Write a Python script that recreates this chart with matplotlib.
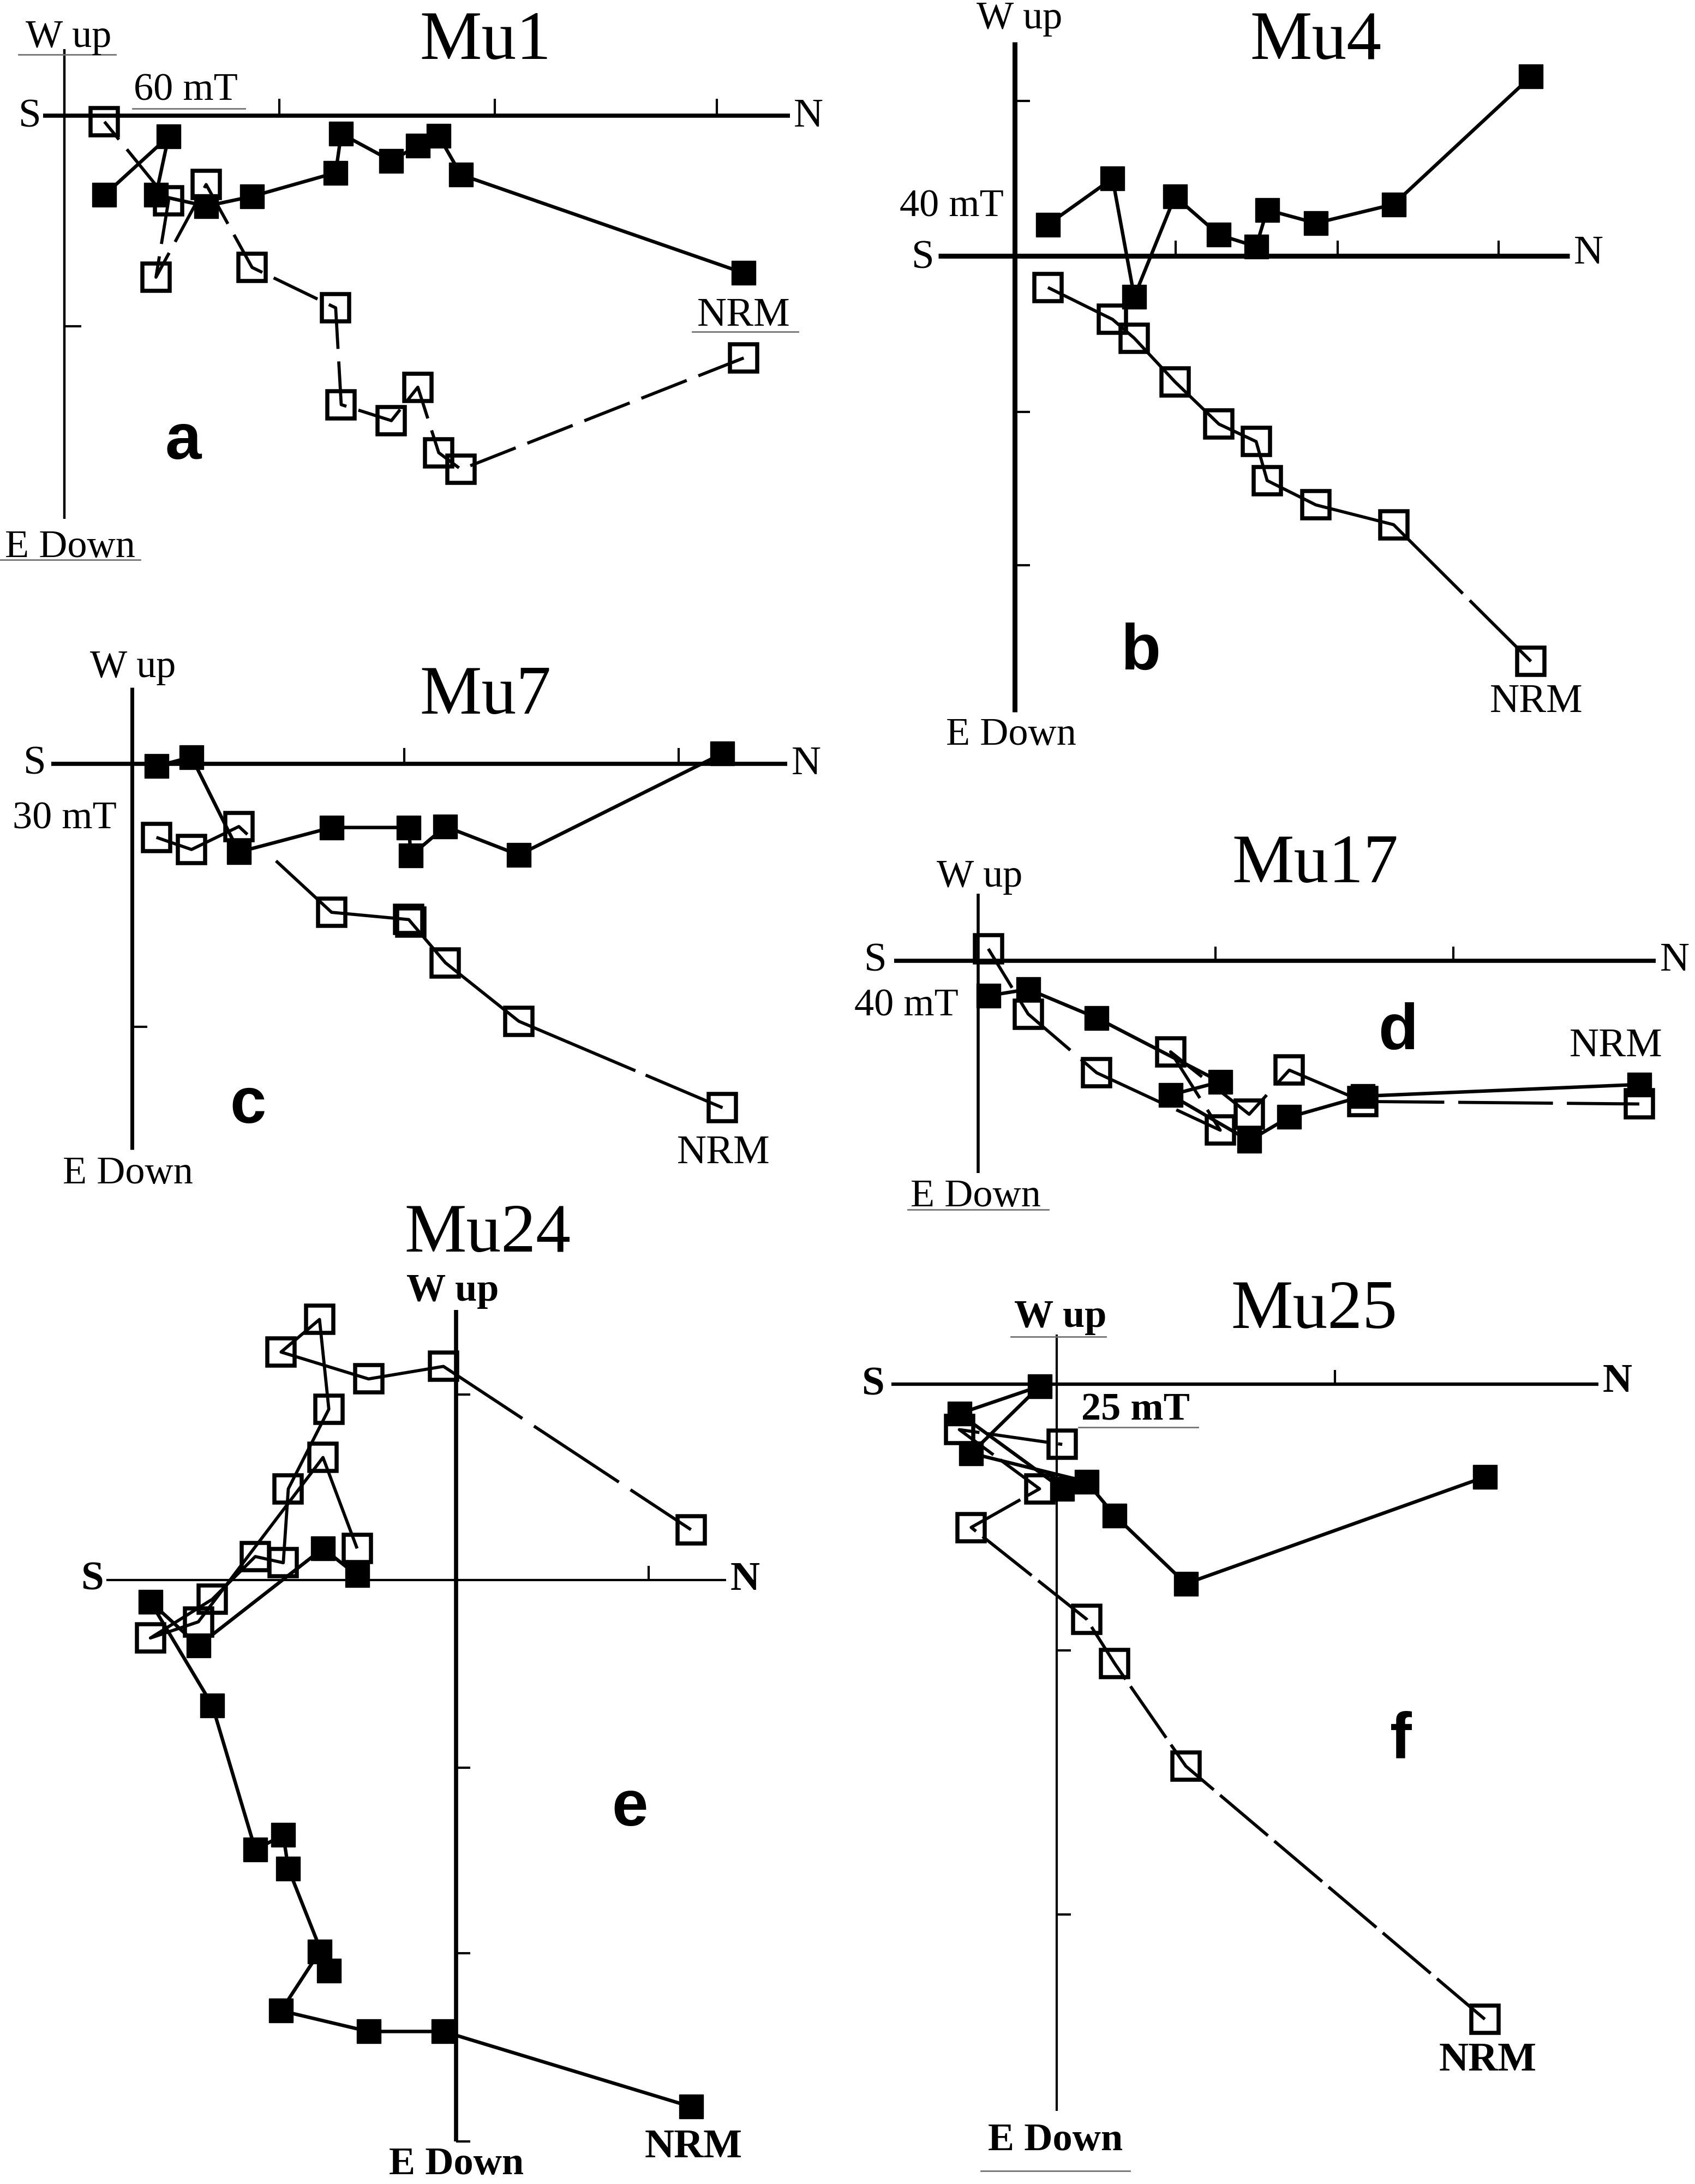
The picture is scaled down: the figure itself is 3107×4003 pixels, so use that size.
import matplotlib
matplotlib.use("Agg")
import matplotlib.pyplot as plt

plt.rcParams['lines.scale_dashes'] = False

FIG_W, FIG_H = 3107, 4003
REF_W, REF_H = 1217.0, 1568.0
PT = (FIG_W / REF_W) * 72.0 / 100.0   # points per reference pixel

SERIF = ['Liberation Serif', 'DejaVu Serif']
SANS = ['Liberation Sans', 'DejaVu Sans']

# ------------------------------------------------------------------
# Demagnetisation data (arbitrary units, origin at the
# axis crossing). north: N component; east: horizontal projection (E positive,
# drawn downward = "W up"); down: vertical projection (Down positive).
# Each list runs from the NRM to the last demagnetisation step.
# ------------------------------------------------------------------
mu1_north = [487.6, 284.6, 268.6, 253.6, 234.6, 198.6, 194.6, 134.6, 101.6, 65.6, 74.6, 28.6]
mu1_east = [113.0, 42.5, 14.6, 21.5, 32.5, 13.0, 41.0, 58.0, 65.0, 57.0, 15.0, 57.0]
mu1_down = [174.0, 254.0, 242.0, 195.0, 219.0, 207.5, 138.0, 109.0, 49.5, 116.0, 61.0, 4.4]

mu4_north = [370.8, 272.2, 216.4, 181.4, 173.5, 146.8, 115.2, 86.0, 70.4, 24.0]
mu4_east = [-128.8, -37.1, -23.6, -33.1, -6.8, -15.2, -42.8, 29.3, -55.7, -22.6]
mu4_down = [291.0, 192.9, 178.7, 161.2, 133.2, 120.7, 90.3, 59.0, 45.5, 22.6]

mu7_north = [423.9, 277.6, 224.9, 200.1, 198.6, 143.2, 76.6, 42.6, 17.4]
mu7_east = [-7.3, 65.6, 45.2, 66.1, 45.9, 45.9, 63.5, -4.7, 1.9]
mu7_down = [247.1, 185.0, 143.0, 113.8, 112.0, 106.8, 45.2, 61.7, 53.0]

mu17_north = [474.6, 276.2, 223.3, 194.5, 138.1, 173.7, 85.0, 35.8, 7.2]
mu17_east = [89.0, 97.4, 112.4, 129.3, 96.5, 87.1, 41.2, 20.6, 25.3]
mu17_down = [103.0, 101.2, 78.7, 110.4, 65.6, 121.8, 80.6, 38.4, -8.4]

mu24_north = [168.6, -9.1, -62.9, -125.7, -98.1, -91.4, -120.5, -124.1, -144.2,
              -175.1, -219.5, -185.1, -95.6, -71.1]
mu24_east = [378.3, 324.3, 324.3, 309.4, 267.1, 280.6, 207.2, 183.3, 193.7,
             90.1, 15.8, 47.3, -22.5, -3.2]
mu24_down = [-36.0, -153.2, -144.2, -163.5, -186.9, -122.5, -65.3, -12.2, -16.7,
             14.0, 41.8, 30.2, -87.8, -22.5]

mu25_north = [307.3, 92.6, 41.6, 21.4, -61.5, -12.4, -70.0, 3.9]
mu25_east = [66.8, 143.4, 94.5, 70.2, 49.8, 1.7, 21.3, 75.3]
mu25_down = [456.1, 274.4, 200.8, 168.9, 103.0, 75.3, 32.8, 43.4]

sample_names = ["Mu1", "Mu4", "Mu7", "Mu17", "Mu24", "Mu25"]
panel_letters = ["a", "b", "c", "d", "e", "f"]
step_labels = ["60 mT", "40 mT", "30 mT", "40 mT", None, "25 mT"]

# ------------------------------------------------------------------
# Layout (reference-pixel units relative to each panel's origin)
# ------------------------------------------------------------------
layout = [
    dict(origin=(46.4, 83), box=(0, 0, 608, 440),
         haxis=(-15.4, 520.6), vaxis=(-47.6, 289.7), hlw=5.5, vlw=3.2,
         hticks=[154.1, 308.9, 468.3], vticks=[151.4], tick=12,
         S=(-25, 1), N=(534, 1), Wup=(2.9, -56), Edown=(4, 310),
         step=(87, -18), nrm=(487.6, 144), letter=(85.2, 234.6), title=(302, -52.8),
         dash=(35, 9), bold=False,
         underlines=[(-33, 36.6, -44), (48.6, 129.6, -5), (450.6, 526.6, 155), (-46.4, 54.2, 319)]),
    dict(origin=(728.4, 183.8), box=(608, 0, 1217, 540),
         haxis=(-54.7, 398.6), vaxis=(-153.8, 327.2), hlw=6.5, vlw=6.5,
         hticks=[115.9, 232.2, 347.4], vticks=[-111.3, 112.0, 221.9], tick=11,
         S=(-65.9, 1.7), N=(412.2, -1.7), Wup=(3.7, -170.3), Edown=(-2.4, 344),
         step=(-45.2, -35.4), nrm=(374.6, 320.3), letter=(90.3, 284.9), title=(216.4, -153.5),
         dash=(62, 7, 2000, 1), bold=False, underlines=[]),
    dict(origin=(94.9, 548.2), box=(0, 440, 608, 870),
         haxis=(-58.1, 470.4), vaxis=(-54.5, 277.3), hlw=5.5, vlw=5.0,
         hticks=[195.5, 392.2], vticks=[188.8], tick=11,
         S=(-69.9, 0.6), N=(484, 0.6), Wup=(0.7, -68.9), Edown=(-3.1, 294.4),
         step=(-48.4, 39.8), nrm=(424.7, 279.9), letter=(83.2, 245.8), title=(253.6, -48),
         dash=(60, 8, 309, 28, 2000, 1), bold=False, underlines=[]),
    dict(origin=(702.4, 689.6), box=(608, 540, 1217, 870),
         haxis=(-60.3, 486.3), vaxis=(-47.8, 152.7), hlw=5.5, vlw=4.0,
         hticks=[170.4, 341.2], vticks=[], tick=10,
         S=(-73.9, 0.4), N=(499.9, 0.4), Wup=(0.8, -59.9), Edown=(-1.9, 169.6),
         step=(-51.7, 32.8), nrm=(457.9, 61.8), letter=(301.5, 51.5), title=(242, -68.4),
         dash=(52, 10, 68, 10), bold=False, underlines=[(-50.6, 50.6, 179)]),
    dict(origin=(327.5, 1134.2), box=(0, 870, 608, 1568),
         haxis=(-251.2, 193.9), vaxis=(-193.7, 403.1), hlw=3.0, vlw=5.5,
         hticks=[138.2], vticks=[-132.9, 135.1, 268.0, 403.1], tick=10,
         S=(-261.4, 0), N=(207.4, 0), Wup=(-2.4, -207.2), Edown=(0, 420),
         step=None, nrm=(170.3, 407.6), letter=(124.7, 164.4), title=(22.6, -247.7),
         dash=(52, 10, 73, 10, 2000, 1), bold=True, underlines=[]),
    dict(origin=(758.8, 993.6), box=(608, 870, 1217, 1568),
         haxis=(-118.6, 389.0), vaxis=(-35.3, 522.0), hlw=4.5, vlw=3.0,
         hticks=[199.6], vticks=[191.5, 380.8], tick=10,
         S=(-132.2, 0.9), N=(402.6, -1.3), Wup=(2.7, -48), Edown=(-1.2, 543.3),
         step=(56.4, 18.8), nrm=(309.3, 485.8), letter=(247, 256.1), title=(184.8, -52.3),
         dash=(45, 6), bold=True,
         underlines=[(-33.1, 35, -34), (15.6, 101.2, 31), (-54.4, 52.5, 565)]),
]

series = [
    (mu1_north, mu1_east, mu1_down),
    (mu4_north, mu4_east, mu4_down),
    (mu7_north, mu7_east, mu7_down),
    (mu17_north, mu17_east, mu17_down),
    (mu24_north, mu24_east, mu24_down),
    (mu25_north, mu25_east, mu25_down),
]

DATA_LW = 4.6
FILLED_MS, OPEN_MS, OPEN_MEW = 31, 36, 5.4
LABEL_FS, SN_FS, TITLE_FS, LETTER_FS = 52, 54, 92, 86

fig = plt.figure(figsize=(FIG_W / 100, FIG_H / 100), dpi=100)

for (north, east, down), name, letter, step, p in zip(series, sample_names, panel_letters,
                                                       step_labels, layout):
    ox, oy = p['origin']
    x0, y0, x1, y1 = p['box']
    ax = fig.add_axes([x0 / REF_W, 1 - y1 / REF_H, (x1 - x0) / REF_W, (y1 - y0) / REF_H])
    ax.set_xlim(x0 - ox, x1 - ox)
    ax.set_ylim(y1 - oy, y0 - oy)   # positive values (E / Down) drawn downward
    ax.axis('off')

    # Zijderveld axes
    ax.plot(p['haxis'], [0, 0], color='k', lw=p['hlw'], solid_capstyle='butt', clip_on=False)
    ax.plot([0, 0], p['vaxis'], color='k', lw=p['vlw'], solid_capstyle='butt', clip_on=False)
    for t in p['hticks']:
        ax.plot([t, t], [0, -p['tick']], color='k', lw=3.0, solid_capstyle='butt', clip_on=False)
    for t in p['vticks']:
        ax.plot([0, p['tick']], [t, t], color='k', lw=3.0, solid_capstyle='butt', clip_on=False)

    # vertical projection (open squares)
    ax.plot(north, down, color='k', lw=DATA_LW * 0.9, dashes=[d * PT for d in p['dash']],
            marker='s', ms=OPEN_MS, mfc='none', mec='k', mew=OPEN_MEW,
            zorder=3, clip_on=False)
    # horizontal projection (filled squares)
    ax.plot(north, east, color='k', lw=DATA_LW, marker='s', ms=FILLED_MS,
            mfc='k', mec='k', mew=1, zorder=4, clip_on=False)

    weight = 'bold' if p['bold'] else 'normal'
    ax.text(*p['S'], "S", ha='center', va='center', fontsize=SN_FS, family=SERIF, weight=weight)
    ax.text(*p['N'], "N", ha='center', va='center', fontsize=SN_FS, family=SERIF, weight=weight)
    ax.text(*p['Wup'], "W up", ha='center', va='center', fontsize=LABEL_FS, family=SERIF, weight=weight)
    ax.text(*p['Edown'], "E Down", ha='center', va='center', fontsize=LABEL_FS, family=SERIF, weight=weight)
    ax.text(*p['nrm'], "NRM", ha='center', va='center', fontsize=LABEL_FS + 2, family=SERIF, weight=weight)
    if step is not None:
        ax.text(*p['step'], step, ha='center', va='center', fontsize=LABEL_FS, family=SERIF, weight=weight)
    ax.text(*p['title'], name, ha='center', va='center', fontsize=TITLE_FS, family=SERIF)
    ax.text(*p['letter'], letter, ha='center', va='center', fontsize=LETTER_FS,
            family=SANS, weight='bold')
    for ux0, ux1, uy in p['underlines']:
        ax.plot([ux0, ux1], [uy, uy], color='0.45', lw=2.0, clip_on=False)

fig.savefig("out.png", dpi=100, facecolor='white')
